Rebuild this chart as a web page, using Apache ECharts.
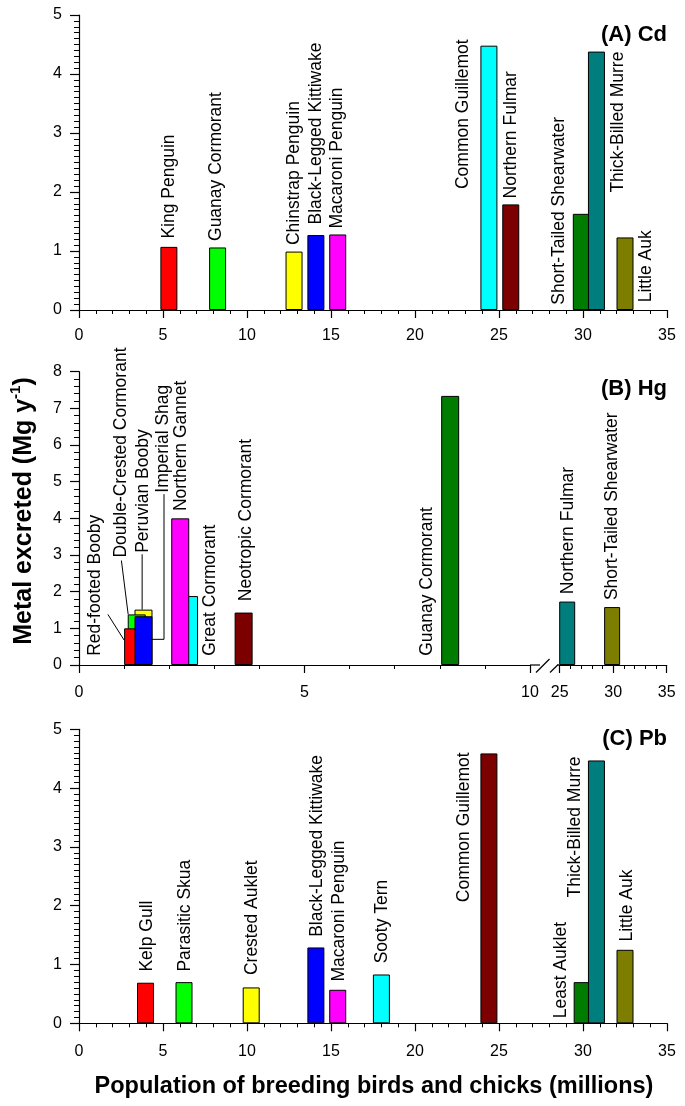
<!DOCTYPE html>
<html><head><meta charset="utf-8">
<script src="https://cdn.jsdelivr.net/npm/echarts@6/dist/echarts.min.js"></script>
<style>html,body{margin:0;padding:0;background:#fff}#c{width:685px;height:1106px}</style>
</head><body><div id="c"></div>
<script>
// ---------- DATA ----------
// (A) Cd
const speciesA = ['King Penguin','Guanay Cormorant','Chinstrap Penguin','Black-Legged Kittiwake','Macaroni Penguin','Common Guillemot','Northern Fulmar','Short-Tailed Shearwater','Thick-Billed Murre','Little Auk'];
const popA = [5.35, 8.25, 12.8, 14.1, 15.4, 24.4, 25.7, 29.9, 30.8, 32.5];
const cdA  = [1.07, 1.06, 0.99, 1.27, 1.28, 4.48, 1.79, 1.63, 4.38, 1.23];
const labelXA = [5.38, 8.19, 12.79, 14.09, 15.39, 22.88, 25.74, 28.58, 32.12, 33.75];
const labelYA = [1.21, 1.17, 1.10, 1.45, 1.38, 2.05, 1.89, 0.09, 1.99, 0.13];

// (B) Hg  (first 8 on the 0-10 segment, last 2 on the 25-35 segment)
const speciesB = ['Red-footed Booby','Double-Crested Cormorant','Peruvian Booby','Imperial Shag','Northern Gannet','Great Cormorant','Neotropic Cormorant','Guanay Cormorant','Northern Fulmar','Short-Tailed Shearwater'];
const popB = [1.2, 1.28, 1.43, 1.43, 2.245, 2.44, 3.65, 8.23, 25.7, 29.9];
const hgB  = [1.0, 1.38, 1.51, 1.33, 4.0, 1.88, 1.43, 7.34, 1.73, 1.58];
const drawOrderB = [2, 1, 0, 3, 5, 4, 6, 7];
const labelXB = [0.36, 0.94, 1.42, 1.87, 2.27, 2.91, 3.70, 7.72, 25.8, 29.9];
const labelYB = [0.25, 2.93, 3.06, 4.70, 4.20, 0.25, 1.74, 0.25, 1.93, 1.77];
const leadersB = [
  [[0.64, 1.38], [1.0, 0.68]],
  [[0.94, 2.85], [1.09, 1.38]],
  [[1.40, 3.02], [1.40, 1.51]],
  [[1.885, 4.66], [1.885, 0.70], [1.575, 0.70]]
];

// (C) Pb
const speciesC = ['Kelp Gull','Parasitic Skua','Crested Auklet','Black-Legged Kittiwake','Macaroni Penguin','Sooty Tern','Common Guillemot','Least Auklet','Thick-Billed Murre','Little Auk'];
const popC = [3.96, 6.25, 10.25, 14.1, 15.4, 18.0, 24.4, 29.95, 30.8, 32.5];
const pbC  = [0.69, 0.70, 0.61, 1.29, 0.57, 0.83, 4.59, 0.70, 4.47, 1.25];
const labelXC = [4.08, 6.32, 10.32, 14.17, 15.47, 18.04, 22.93, 28.7, 29.54, 32.6];
const labelYC = [0.88, 0.88, 0.82, 1.47, 0.71, 1.02, 2.06, 0.085, 2.14, 1.39];

// ---------- STYLE ----------
const palette = ['#ff0000','#00ff00','#ffff00','#0000ff','#ff00ff','#00ffff','#7d0000','#007d00','#007d7d','#7d7d00'];
const FONT = '"Liberation Sans", Arial, Helvetica, sans-serif';

const chart = echarts.init(document.getElementById('c'));

function xAxisCfg(grid, min, max, margin) {
  return { type:'value', gridIndex:grid, min:min, max:max, interval:5,
    axisLine:{show:true, onZero:false, lineStyle:{color:'#000', width:1.2}},
    axisTick:{show:true, length:8, lineStyle:{color:'#000', width:1.2}},
    minorTick:{show:true, splitNumber:5, length:4, lineStyle:{color:'#000', width:1}},
    axisLabel:{color:'#000', fontSize:16, fontFamily:FONT, margin:margin},
    splitLine:{show:false}, minorSplitLine:{show:false} };
}
function yAxisCfg(grid, max, minorSplit, show) {
  return { type:'value', gridIndex:grid, min:0, max:max, interval:1, show:show,
    axisLine:{show:true, lineStyle:{color:'#000', width:1.2}},
    axisTick:{show:true, length:9, lineStyle:{color:'#000', width:1.2}},
    minorTick:{show:true, splitNumber:minorSplit, length:5, lineStyle:{color:'#000', width:1}},
    axisLabel:{color:'#000', fontSize:16, fontFamily:FONT, margin:17},
    splitLine:{show:false}, minorSplitLine:{show:false} };
}
function barSeries(ai, pops, vals, idxs, width) {
  return { type:'bar', xAxisIndex:ai, yAxisIndex:ai, barWidth:width, silent:true,
    data: idxs.map(i => ({ value:[pops[i], vals[i]],
      itemStyle:{ color: palette[i], borderColor:'#000', borderWidth:1 } })) };
}
function labelSeries(ai, names, lx, ly, idxs) {
  return { type:'custom', xAxisIndex:ai, yAxisIndex:ai, silent:true, clip:false, z:5,
    data: idxs.map(i => [lx[i], ly[i]]),
    renderItem: function (params, api) {
      const p = api.coord([api.value(0), api.value(1)]);
      return { type:'text', x:p[0], y:p[1], rotation:Math.PI/2,
        style:{ text:names[idxs[params.dataIndex]], fill:'#000', font:'17.5px ' + FONT,
                align:'left', verticalAlign:'middle' } };
    } };
}
const all10 = [0,1,2,3,4,5,6,7,8,9];

const option = {
  animation:false,
  backgroundColor:'#fff',
  grid:[
    {left:79, top:15, width:588, height:295},
    {left:79, top:371.7, width:451, height:293.3},
    {left:559.7, top:371.7, width:107, height:293.3},
    {left:79, top:729.3, width:588, height:294}
  ],
  xAxis:[ xAxisCfg(0,0,35,18), xAxisCfg(1,0,10,20), xAxisCfg(2,25,35,20), xAxisCfg(3,0,35,20) ],
  yAxis:[ yAxisCfg(0,5,10,true), yAxisCfg(1,8,5,true), yAxisCfg(2,8,5,false), yAxisCfg(3,5,10,true) ],
  series:[
    barSeries(0, popA, cdA, all10, 17),
    labelSeries(0, speciesA, labelXA, labelYA, all10),
    barSeries(1, popB, hgB, drawOrderB, 18),
    barSeries(2, popB, hgB, [8,9], 16),
    labelSeries(1, speciesB, labelXB, labelYB, [0,1,2,3,4,5,6,7]),
    labelSeries(2, speciesB, labelXB, labelYB, [8,9]),
    ...leadersB.map(pts => ({ type:'line', xAxisIndex:1, yAxisIndex:1, data:pts, symbol:'none', silent:true,
        lineStyle:{color:'#000', width:1}, z:4 })),
    barSeries(3, popC, pbC, all10, 17),
    labelSeries(3, speciesC, labelXC, labelYC, all10)
  ]
};
chart.setOption(option);

// decorations: panel titles, axis titles, axis break
const o = chart.convertToPixel({gridIndex:1}, [10, 0]);
const r = chart.convertToPixel({gridIndex:2}, [25, 0]);
const lineStyle = {stroke:'#000', lineWidth:1.2};
chart.setOption({ graphic:[
  {type:'text', x:667, y:34.5, style:{text:'(A) Cd', font:'bold 22px ' + FONT, fill:'#000', align:'right', verticalAlign:'middle'}},
  {type:'text', x:667, y:389, style:{text:'(B) Hg', font:'bold 22px ' + FONT, fill:'#000', align:'right', verticalAlign:'middle'}},
  {type:'text', x:667, y:738.7, style:{text:'(C) Pb', font:'bold 22px ' + FONT, fill:'#000', align:'right', verticalAlign:'middle'}},
  {type:'text', x:374, y:1087, style:{text:'Population of breeding birds and chicks (millions)', font:'bold 23.5px ' + FONT, fill:'#000', align:'center', verticalAlign:'middle'}},
  {type:'text', x:24, y:511, rotation:Math.PI/2, style:{
      text:'{a|Metal excreted (Mg y}{s|-1}{a|)}', align:'center', verticalAlign:'middle',
      rich:{ a:{font:'bold 25px ' + FONT, fill:'#000', lineHeight:32, verticalAlign:'middle'},
             s:{font:'bold 15px ' + FONT, fill:'#000', verticalAlign:'top'} } }},
  {type:'line', shape:{x1:o[0], y1:o[1], x2:o[0] + 10, y2:o[1]}, style:lineStyle},
  {type:'line', shape:{x1:o[0] + 6, y1:o[1] + 7.5, x2:o[0] + 19.5, y2:o[1] - 6}, style:lineStyle},
  {type:'line', shape:{x1:o[0] + 20, y1:o[1] + 7.5, x2:r[0] - 1.5, y2:o[1] - 0.5}, style:lineStyle},
  {type:'line', shape:{x1:r[0] - 2, y1:r[1], x2:r[0], y2:r[1]}, style:lineStyle}
]});
</script>
</body></html>
